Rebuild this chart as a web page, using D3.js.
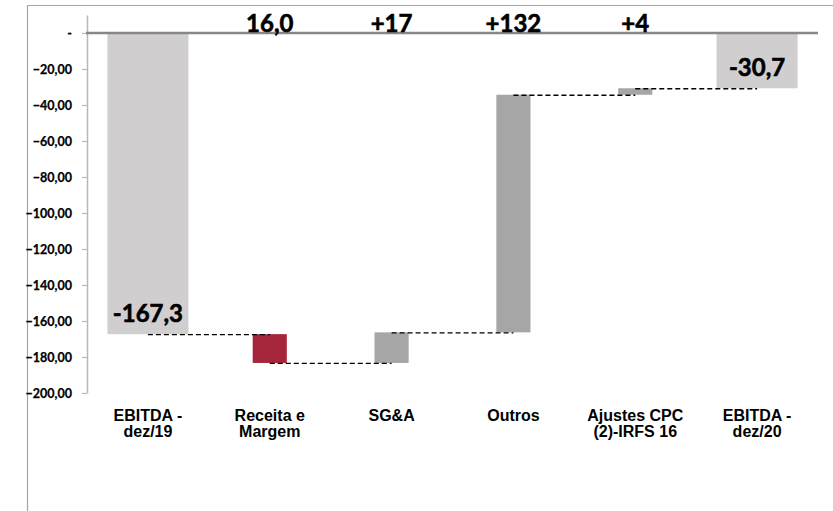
<!DOCTYPE html>
<html>
<head>
<meta charset="utf-8">
<script src="https://cdn.jsdelivr.net/npm/d3@7"></script>
<style>
  html, body { margin: 0; padding: 0; background: #ffffff; }
  svg { display: block; }
</style>
</head>
<body>
<svg id="chart" width="833" height="511"></svg>
<script>
// ---- data ----
const categories = ["EBITDA - dez/19", "Receita e Margem", "SG&A", "Outros", "Ajustes CPC (2)-IRFS 16", "EBITDA - dez/20"];
const categoryLines = [["EBITDA -", "dez/19"], ["Receita e", "Margem"], ["SG&A"], ["Outros"], ["Ajustes CPC", "(2)-IRFS 16"], ["EBITDA -", "dez/20"]];
const values = [-167.3, -16.0, 17.0, 132.0, 3.6, -30.7];
const barTypes = ["total", "delta", "delta", "delta", "delta", "total"];
const valueLabels = ["-167,3", "16,0", "+17", "+132", "+4", "-30,7"];
const yTickValues = [0, -20, -40, -60, -80, -100, -120, -140, -160, -180, -200];
const yDomain = [-200, 10];

// ---- computing waterfall segments ----
let running = 0;
const segs = values.map((v, i) => {
  let y0, y1;
  if (barTypes[i] === "total") { y0 = 0; y1 = v; running = v; }
  else { y0 = running; y1 = running + v; running = y1; }
  return { cat: categories[i], lines: categoryLines[i], type: barTypes[i], y0, y1, level: running, label: valueLabels[i], i };
});

const svg = d3.select("#chart");
const x = d3.scaleBand().domain(categories).range([87, 818]);
const y = d3.scaleLinear().domain(yDomain).range([393, 15]);

// outer frame lines
svg.append("line").attr("x1", 27).attr("x2", 833).attr("y1", 5.5).attr("y2", 5.5)
  .attr("stroke", "#a6a6a6").attr("stroke-width", 1.2);
svg.append("line").attr("x1", 27.5).attr("x2", 27.5).attr("y1", 5).attr("y2", 511)
  .attr("stroke", "#a6a6a6").attr("stroke-width", 1.2);

// y axis
const yAxis = d3.axisLeft(y)
  .tickValues(yTickValues)
  .tickSizeInner(5)
  .tickSizeOuter(0)
  .tickPadding(10)
  .tickFormat(d => d === 0 ? "-" : d3.format(".2f")(d).replace(".", ","));
const gy = svg.append("g").attr("transform", "translate(87,0)").call(yAxis);
gy.select(".domain").attr("stroke", "#b8b8b8").attr("stroke-width", 1.5);
gy.selectAll(".tick line").attr("stroke", "#b8b8b8").attr("stroke-width", 1.2);
gy.selectAll(".tick text")
  .attr("fill", "#000")
  .attr("stroke", "#000")
  .attr("stroke-width", 0.25)
  .style("font-family", "Lato, 'Open Sans', sans-serif")
  .style("font-weight", "bold")
  .style("font-size", "12.5px");

const colorFor = (d) => d.type === "total" ? "#d0cecf" : (d.i === 1 ? "#a5263a" : "#a6a6a6");
const widthFor = (d) => d.type === "total" ? x.bandwidth() * 0.665 : x.bandwidth() * 0.28;

// bars
svg.append("g").selectAll("rect").data(segs).join("rect")
  .attr("x", d => x(d.cat) + x.bandwidth() / 2 - widthFor(d) / 2)
  .attr("width", d => widthFor(d))
  .attr("y", d => y(Math.max(d.y0, d.y1)))
  .attr("height", d => Math.abs(y(d.y0) - y(d.y1)))
  .attr("fill", d => colorFor(d));

// connectors
svg.append("g").selectAll("line").data(segs.slice(0, -1)).join("line")
  .attr("x1", d => x(d.cat) + x.bandwidth() / 2)
  .attr("x2", d => x(categories[d.i + 1]) + x.bandwidth() / 2)
  .attr("y1", d => y(d.level) + 0.5)
  .attr("y2", d => y(d.level) + 0.5)
  .attr("stroke", "#000")
  .attr("stroke-width", 1.3)
  .attr("stroke-dasharray", "5,3");

// zero line
svg.append("line")
  .attr("x1", 86).attr("x2", 818)
  .attr("y1", y(0)).attr("y2", y(0))
  .attr("stroke", "#878787").attr("stroke-width", 2.5);

// value labels
svg.append("g").selectAll("text").data(segs).join("text")
  .attr("x", d => x(d.cat) + x.bandwidth() / 2)
  .attr("y", d => d.type === "total" ? y(d.y1) - 12 : y(0) - 1)
  .attr("text-anchor", "middle")
  .style("font-family", "Lato, 'Open Sans', sans-serif")
  .style("font-weight", "bold")
  .style("font-size", "24px")
  .attr("fill", "#000")
  .attr("stroke", "#000")
  .attr("stroke-width", 0.6)
  .text(d => d.label);

// category labels
const xl = svg.append("g").selectAll("text").data(segs).join("text")
  .attr("x", d => x(d.cat) + x.bandwidth() / 2)
  .attr("y", 421)
  .attr("text-anchor", "middle")
  .style("font-family", "'Liberation Sans', Arial, sans-serif")
  .style("font-weight", "bold")
  .style("font-size", "16px")
  .attr("fill", "#000");
xl.selectAll("tspan").data(d => d.lines.map(l => ({ l, x: x(d.cat) + x.bandwidth() / 2 }))).join("tspan")
  .attr("x", t => t.x)
  .attr("dy", (t, j) => j === 0 ? 0 : 16)
  .text(t => t.l);
</script>
</body>
</html>
